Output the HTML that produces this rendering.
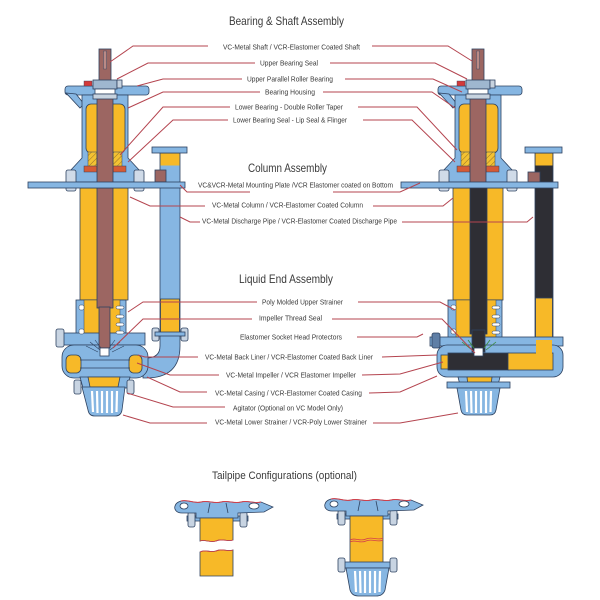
<!DOCTYPE html>
<html><head><meta charset="utf-8"><style>
html,body{margin:0;padding:0;background:#fff;}
svg{display:block}
text{font-family:"Liberation Sans",Arial,sans-serif;fill:#3a3a3a}
</style></head><body>
<svg width="600" height="600" viewBox="0 0 600 600" xmlns="http://www.w3.org/2000/svg">
<defs>
<pattern id="hatch" width="4" height="4" patternUnits="userSpaceOnUse" patternTransform="rotate(45)">
<rect width="4" height="4" fill="#f3c232"/>
<line x1="0" y1="0" x2="0" y2="4" stroke="#7a5a2a" stroke-width="0.8"/>
</pattern>
<g id="top" stroke="#2e4260" stroke-width="0.8">
 <rect x="65" y="86" width="84" height="9" rx="3" fill="#86b6e2"/>
 <polygon points="66,93 80,108 84,104 76,94" fill="#86b6e2"/>
 <path d="M82,95 L128,95 L128,158 L141,172 L141,182 L69,182 L69,172 L82,158 Z" fill="#86b6e2"/>
 <rect x="86" y="104" width="39" height="49" rx="5" fill="#f7b928"/>
 <rect x="88" y="152" width="9" height="16" fill="url(#hatch)" stroke-width="0.5"/>
 <rect x="113" y="152" width="9" height="16" fill="url(#hatch)" stroke-width="0.5"/>
 <rect x="84" y="166" width="13" height="6" fill="#d55a35" stroke-width="0.5"/>
 <rect x="113" y="166" width="13" height="6" fill="#d55a35" stroke-width="0.5"/>
 <rect x="97" y="90" width="16" height="94" fill="#9c6662"/>
 <rect x="99" y="49" width="12" height="42" fill="#9c6662"/>
 <rect x="103.5" y="51" width="3" height="18" fill="#b98a86" stroke-width="0.4"/>
 <rect x="93" y="80" width="24" height="9" fill="#9fb7cf"/>
 <rect x="95" y="89" width="20" height="5" fill="#ffffff"/>
 <rect x="93" y="94" width="24" height="5" fill="#c7d3df"/>
 <rect x="117" y="80" width="5" height="8" fill="#c7d3df"/>
 <rect x="84" y="81" width="8" height="5" fill="#d33a3a" stroke-width="0.4"/>
 <rect x="66" y="170" width="10" height="21" rx="2" fill="#d0dbe8"/>
 <rect x="134" y="170" width="10" height="21" rx="2" fill="#d0dbe8"/>
 <rect x="28" y="182" width="157" height="6" fill="#86b6e2"/>
</g>
</defs>
<rect width="600" height="600" fill="#fff"/>

<!-- ================= LEFT PUMP ================= -->
<g stroke="#2e4260" stroke-width="0.8">
 <!-- discharge pipe -->
 <rect x="160" y="153" width="20" height="182" fill="#86b6e2"/>
 <rect x="160.5" y="153.5" width="19" height="12" fill="#f7b928" stroke="none"/>
 <rect x="160.5" y="299" width="19" height="34" fill="#f7b928"/>
 <rect x="152" y="147" width="35" height="6" fill="#86b6e2"/>
 <rect x="155" y="170" width="11" height="12" fill="#9c6662"/>
 <!-- elbow -->
 <path d="M160,334 L180,334 L180,346 Q180,378 146,378 L143,378 L143,358 L146,358 Q160,358 160,346 Z" fill="#86b6e2"/>
 <rect x="152" y="328" width="7" height="13" rx="2" fill="#c8d4e2"/>
 <rect x="181" y="328" width="7" height="13" rx="2" fill="#c8d4e2"/>
 <rect x="155" y="332" width="30" height="4" fill="#86b6e2"/>
 <!-- column -->
 <rect x="80" y="188" width="48" height="112" fill="#f7b928"/>
 <!-- upper strainer -->
 <rect x="76" y="300" width="50" height="42" fill="#86b6e2"/>
 <rect x="84" y="300" width="36" height="40" fill="#f7b928" stroke-width="0.5"/>
 <!-- casing top plate -->
 <rect x="57" y="333" width="88" height="12" fill="#86b6e2"/>
 <rect x="56" y="329" width="8" height="18" rx="2" fill="#c8d4e2"/>
 <!-- volute -->
 <rect x="62" y="345" width="86" height="33" rx="12" fill="#86b6e2"/>
 <rect x="66" y="355" width="15" height="18" rx="5" fill="#f7b928"/>
 <rect x="129" y="355" width="13" height="18" rx="5" fill="#f7b928"/>
 <line x1="80" y1="360" x2="130" y2="360"/>
 <line x1="80" y1="368" x2="130" y2="368"/>
 <!-- shaft -->
 <rect x="97" y="188" width="16" height="120" fill="#9c6662"/>
 <rect x="99" y="307" width="11" height="41" fill="#9c6662"/>
 <rect x="100" y="348" width="9" height="8" fill="#ffffff"/>
 <path d="M90,342 L100,350 M95,340 L101,348 M120,342 L110,350 M115,340 L109,348 M86,346 L98,352 M124,346 L112,352" fill="none" stroke-width="0.6"/>
 <!-- inlet -->
 <path d="M80,377 L130,377 L127,388 L83,388 Z" fill="#86b6e2"/>
 <path d="M88,377 L120,377 L118,387 L90,387 Z" fill="#f7b928"/>
 <rect x="74" y="380" width="7" height="14" rx="2" fill="#c8d4e2"/>
 <rect x="127" y="380" width="7" height="14" rx="2" fill="#c8d4e2"/>
 <path d="M82,387 L125,387 L122,410 Q121,416 115,416 L95,416 Q89,416 88,410 Z" fill="#86b6e2"/>
</g>
<g stroke="#ffffff" stroke-width="2.2">
 <line x1="92" y1="391" x2="93" y2="412"/><line x1="97" y1="391" x2="97.5" y2="413"/>
 <line x1="102" y1="391" x2="102" y2="413"/><line x1="107" y1="391" x2="107" y2="413"/>
 <line x1="112" y1="391" x2="112" y2="413"/><line x1="117" y1="391" x2="116.5" y2="412"/>
</g>
<g fill="#ffffff" stroke="#2e4260" stroke-width="0.5">
 <rect x="79" y="305" width="5" height="5" rx="1.5"/><rect x="79" y="329" width="5" height="5" rx="1.5"/>
 <rect x="116" y="306" width="8" height="3" rx="1.5"/><rect x="116" y="315" width="8" height="3" rx="1.5"/>
 <rect x="116" y="323" width="8" height="3" rx="1.5"/><rect x="116" y="331" width="8" height="3" rx="1.5"/>
</g>
<use href="#top"/>

<!-- ================= RIGHT PUMP ================= -->
<g stroke="#2e4260" stroke-width="0.8">
 <!-- discharge pipe -->
 <rect x="535" y="153" width="18" height="202" fill="#2e2e34"/>
 <rect x="535.5" y="153.5" width="17" height="12" fill="#f7b928" stroke="none"/>
 <rect x="535.5" y="298" width="17" height="57" fill="#f7b928"/>
 <rect x="525" y="147" width="37" height="6" fill="#86b6e2"/>
 <rect x="528" y="172" width="12" height="12" fill="#9c6662"/>
 <!-- column -->
 <rect x="453" y="188" width="50" height="112" fill="#f7b928"/>
 <!-- upper strainer -->
 <rect x="448" y="300" width="54" height="42" fill="#86b6e2"/>
 <rect x="456" y="300" width="40" height="40" fill="#f7b928" stroke-width="0.5"/>
 <!-- casing -->
 <rect x="430" y="337" width="133" height="9" fill="#86b6e2"/>
 <rect x="432" y="333" width="8" height="15" rx="2" fill="#5f7fa6"/>
 <rect x="437" y="345" width="126" height="32" rx="10" fill="#86b6e2"/>
 <rect x="441" y="355" width="8" height="14" fill="#f7b928"/>
 <rect x="448" y="353" width="61" height="17" fill="#2e2e34"/>
 <rect x="508" y="353" width="45" height="17" fill="#f7b928"/>
 <rect x="536" y="340" width="16" height="16" fill="#f7b928" stroke="none"/>
 <!-- shaft -->
 <rect x="470" y="184" width="17" height="150" fill="#2e2e34"/>
 <rect x="472" y="330" width="13" height="22" fill="#2e2e34"/>
 <rect x="474" y="348" width="9" height="8" fill="#ffffff"/>
 <path d="M462,342 L472,350 M468,340 L474,348 M496,342 L486,350 M490,340 L484,348" fill="none" stroke="#3a8a3a" stroke-width="0.8"/>
 <!-- inlet -->
 <path d="M458,377 L500,377 L498,385 L460,385 Z" fill="#86b6e2"/>
 <path d="M467,377 L492,377 L491,386 L468,386 Z" fill="#f7b928"/>
 <rect x="447" y="382" width="63" height="6" fill="#86b6e2"/>
 <path d="M457,388 L500,388 L496,410 Q495,415 490,415 L467,415 Q462,415 461,410 Z" fill="#86b6e2"/>
</g>
<g stroke="#ffffff" stroke-width="2.2">
 <line x1="466" y1="391" x2="467" y2="412"/><line x1="471" y1="391" x2="471.5" y2="413"/>
 <line x1="476" y1="391" x2="476" y2="413"/><line x1="481" y1="391" x2="481" y2="413"/>
 <line x1="486" y1="391" x2="486" y2="413"/><line x1="491" y1="391" x2="490.5" y2="412"/>
</g>
<g fill="#ffffff" stroke="#2e4260" stroke-width="0.5">
 <rect x="451" y="305" width="5" height="5" rx="1.5"/><rect x="451" y="329" width="5" height="5" rx="1.5"/>
 <rect x="492" y="306" width="8" height="3" rx="1.5"/><rect x="492" y="315" width="8" height="3" rx="1.5"/>
 <rect x="492" y="323" width="8" height="3" rx="1.5"/><rect x="492" y="331" width="8" height="3" rx="1.5"/>
</g>
<use href="#top" transform="translate(373,0)"/>

<!-- ================= LEADER LINES ================= -->
<g fill="none" stroke="#b4444f" stroke-width="1">
 <polyline points="110,62 133,46 208,46"/>
 <polyline points="117,79 148,63 255,63"/>
 <polyline points="137,86 163,79 242,79"/>
 <polyline points="128,108 163,92 260,92"/>
 <polyline points="120,155 163,107 230,107"/>
 <polyline points="128,162 173,120 228,120"/>
 <polyline points="180,185 187,192 250,192"/>
 <polyline points="130,197 150,206 205,206"/>
 <polyline points="180,217 190,222 200,222"/>
 <polyline points="372,46 448,46 472,61"/>
 <polyline points="330,63 435,63 467,79"/>
 <polyline points="345,79 433,79 462,92"/>
 <polyline points="323,92 432,92 455,108"/>
 <polyline points="358,107 417,107 457,150"/>
 <polyline points="363,120 412,120 455,162"/>
 <polyline points="333,192 400,192 420,183"/>
 <polyline points="373,206 443,206 453,198"/>
 <polyline points="402,222 527,222 533,217"/>

 <polyline points="128,312 143,302 257,302"/>
 <polyline points="113,348 143,319 252,319"/>
 <polyline points="138,355 145,357 198,357"/>
 <polyline points="137,363 170,375 219,375"/>
 <polyline points="147,377 180,392 207,392"/>
 <polyline points="127,393 173,407 225,407"/>
 <polyline points="123,415 150,423 207,423"/>
 <polyline points="358,302 440,302 455,310"/>
 <polyline points="332,319 442,319 475,353"/>
 <polyline points="357,337 417,337 423,334"/>
 <polyline points="382,357 437,355"/>
 <polyline points="362,375 400,374 443,362"/>
 <polyline points="369,393 400,392 437,376"/>
 <polyline points="373,423 400,423 458,413"/>
</g>

<!-- ================= TEXT ================= -->
<text x="229" y="25" font-size="12" textLength="115" lengthAdjust="spacingAndGlyphs">Bearing &amp; Shaft Assembly</text>
<text x="248" y="172" font-size="12" textLength="79" lengthAdjust="spacingAndGlyphs">Column Assembly</text>
<text x="239" y="283" font-size="12" textLength="94" lengthAdjust="spacingAndGlyphs">Liquid End Assembly</text>
<text x="212" y="479" font-size="11" textLength="145" lengthAdjust="spacingAndGlyphs">Tailpipe Configurations (optional)</text>

<g font-size="7">
<text x="223" y="49.5" textLength="137" lengthAdjust="spacingAndGlyphs">VC-Metal Shaft / VCR-Elastomer Coated Shaft</text>
<text x="260" y="65.5" textLength="58" lengthAdjust="spacingAndGlyphs">Upper Bearing Seal</text>
<text x="247" y="81.5" textLength="86" lengthAdjust="spacingAndGlyphs">Upper Parallel Roller Bearing</text>
<text x="265" y="94.5" textLength="50" lengthAdjust="spacingAndGlyphs">Bearing Housing</text>
<text x="235" y="109.5" textLength="108" lengthAdjust="spacingAndGlyphs">Lower Bearing - Double Roller Taper</text>
<text x="233" y="122.5" textLength="114" lengthAdjust="spacingAndGlyphs">Lower Bearing Seal - Lip Seal &amp; Flinger</text>
<text x="198" y="187.5" textLength="195" lengthAdjust="spacingAndGlyphs">VC&amp;VCR-Metal Mounting Plate /VCR Elastomer coated on Bottom</text>
<text x="212" y="207.5" textLength="151" lengthAdjust="spacingAndGlyphs">VC-Metal Column / VCR-Elastomer Coated Column</text>
<text x="202" y="223.5" textLength="195" lengthAdjust="spacingAndGlyphs">VC-Metal Discharge Pipe / VCR-Elastomer Coated Discharge Pipe</text>
<text x="262" y="304.5" textLength="81" lengthAdjust="spacingAndGlyphs">Poly Molded Upper Strainer</text>
<text x="259" y="320.5" textLength="63" lengthAdjust="spacingAndGlyphs">Impeller Thread Seal</text>
<text x="240" y="339.5" textLength="102" lengthAdjust="spacingAndGlyphs">Elastomer Socket Head Protectors</text>
<text x="205" y="359.5" textLength="168" lengthAdjust="spacingAndGlyphs">VC-Metal Back Liner / VCR-Elastomer Coated Back Liner</text>
<text x="226" y="377.5" textLength="130" lengthAdjust="spacingAndGlyphs">VC-Metal Impeller / VCR Elastomer Impeller</text>
<text x="215" y="395.5" textLength="147" lengthAdjust="spacingAndGlyphs">VC-Metal Casing / VCR-Elastomer Coated Casing</text>
<text x="233" y="410.5" textLength="110" lengthAdjust="spacingAndGlyphs">Agitator (Optional on VC Model Only)</text>
<text x="215" y="424.5" textLength="152" lengthAdjust="spacingAndGlyphs">VC-Metal Lower Strainer / VCR-Poly Lower Strainer</text>
</g>

<!-- ================= TAILPIPES ================= -->
<g id="tpl" stroke="#2e4260" stroke-width="0.8">
 <rect x="187" y="516" width="61" height="5" fill="#86b6e2"/>
 <rect x="188" y="512" width="7" height="15" rx="2" fill="#c8d4e2"/>
 <rect x="240" y="512" width="7" height="15" rx="2" fill="#c8d4e2"/>
 <path d="M181,501 C188,499 194,504 201,502 C208,500 214,504 221,502 C228,500 234,504 241,502 C248,500 254,504 261,502 L273,507 L264,512 L238,513 L238,518 L196,518 L196,513 L182,513 C176,513 174,509 175,506 C176,503 178,502 181,501 Z" fill="#86b6e2"/>
 <path d="M181,501 C188,499 194,504 201,502 C208,500 214,504 221,502 C228,500 234,504 241,502 C248,500 254,504 261,502" fill="none" stroke="#d4404a" stroke-width="1"/>
 <ellipse cx="184" cy="506" rx="4" ry="3" fill="#fff"/>
 <ellipse cx="254" cy="506" rx="5" ry="3" fill="#fff"/>
 <line x1="210" y1="503" x2="208" y2="513"/><line x1="226" y1="503" x2="228" y2="513"/>
</g>
<g stroke="#2e4260" stroke-width="0.8">
 <path d="M200,518 L233,518 L233,540 C228,542 222,538 216,541 C210,543 205,539 200,541 Z" fill="#f7b928"/>
 <path d="M233,540 C228,542 222,538 216,541 C210,543 205,539 200,541" fill="none" stroke="#d4404a"/>
 <path d="M200,552 C205,549 210,553 216,551 C222,548 228,552 233,550 L233,576 L200,576 Z" fill="#f7b928"/>
 <path d="M200,552 C205,549 210,553 216,551 C222,548 228,552 233,550" fill="none" stroke="#d4404a"/>
</g>
<use href="#tpl" transform="translate(150,-2)"/>
<g stroke="#2e4260" stroke-width="0.8">
 <rect x="350" y="516" width="33" height="47" fill="#f7b928"/>
 <path d="M350,540 C355,537 360,542 366,539 C372,536 377,541 383,538" fill="none" stroke="#d4404a"/>
 <path d="M350,542 C355,539 360,544 366,541 C372,538 377,543 383,540" fill="none" stroke="#d4404a"/>
 <rect x="342" y="562" width="51" height="6" fill="#86b6e2"/>
 <rect x="338" y="558" width="7" height="14" rx="2" fill="#c8d4e2"/>
 <rect x="390" y="558" width="7" height="14" rx="2" fill="#c8d4e2"/>
 <path d="M346,568 L389,568 L385,590 Q383,596 376,596 L358,596 Q352,596 350,590 Z" fill="#86b6e2"/>
</g>
<g stroke="#ffffff" stroke-width="2.2">
 <line x1="355" y1="571" x2="356" y2="592"/><line x1="360" y1="571" x2="360.5" y2="593"/>
 <line x1="365" y1="571" x2="365" y2="593"/><line x1="370" y1="571" x2="370" y2="593"/>
 <line x1="375" y1="571" x2="375" y2="593"/><line x1="380" y1="571" x2="379.5" y2="592"/>
</g>
</svg>
</body></html>
